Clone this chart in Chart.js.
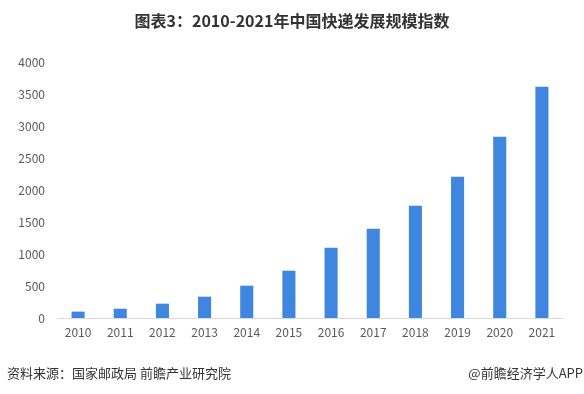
<!DOCTYPE html>
<html>
<head>
<meta charset="utf-8">
<script src="https://cdn.jsdelivr.net/npm/chart.js@4/dist/chart.umd.min.js"></script>
<style>
  html, body { margin: 0; padding: 0; background: #ffffff; }
  #wrap { position: relative; width: 584px; height: 394px; overflow: hidden; }
  #chart { position: absolute; left: 0; top: 0; }
  .txt { position: absolute; font-family: "Noto Sans CJK SC", "Noto Sans", sans-serif; color: #333333; white-space: nowrap; }
  #title { left: 0; width: 584px; top: 8px; text-align: center; font-size: 16px; font-weight: bold; line-height: 24px; }
  #source { left: 7px; top: 364px; font-size: 13px; line-height: 17px; }
  #credit { right: 1px; top: 364px; font-size: 13px; line-height: 17px; }
</style>
</head>
<body>
<div id="wrap">
  <canvas id="chart" width="584" height="394"></canvas>
  <div class="txt" id="title">图表3：2010-2021年中国快递发展规模指数</div>
  <div class="txt" id="source">资料来源：国家邮政局 前瞻产业研究院</div>
  <div class="txt" id="credit">@前瞻经济学人APP</div>
</div>
<script>
const categories = ["2010","2011","2012","2013","2014","2015","2016","2017","2018","2019","2020","2021"];
const indexValues = [100, 145, 224, 333, 505, 739, 1098, 1395, 1755, 2208, 2833, 3614];
const yTicks = [0, 500, 1000, 1500, 2000, 2500, 3000, 3500, 4000];

const tickFont = { family: "'Noto Sans CJK SC', 'Noto Sans', sans-serif", size: 12 };

new Chart(document.getElementById('chart'), {
  type: 'bar',
  data: {
    labels: categories,
    datasets: [{
      data: indexValues,
      backgroundColor: '#3f86e1',
      borderWidth: 0,
      barPercentage: 0.31,
      categoryPercentage: 1.0
    }]
  },
  options: {
    responsive: false,
    animation: false,
    devicePixelRatio: 1,
    layout: { padding: { top: 62, right: 21, left: 0, bottom: 0 } },
    plugins: { legend: { display: false }, title: { display: false }, tooltip: { enabled: false } },
    scales: {
      x: {
        grid: { display: false, drawTicks: false },
        border: { display: true, color: '#d9d9d9', width: 1 },
        ticks: { color: '#595959', font: tickFont, padding: 7, maxRotation: 0 },
        afterFit: (s) => { s.height = 76; }
      },
      y: {
        min: 0, max: 4000,
        afterBuildTicks: (s) => { s.ticks = yTicks.map(v => ({ value: v })); },
        grid: { display: false, drawTicks: false },
        border: { display: false },
        ticks: { color: '#595959', font: tickFont, padding: 12, callback: (v) => String(v) },
        afterFit: (s) => { s.width = 57; }
      }
    }
  }
});
</script>
</body>
</html>
